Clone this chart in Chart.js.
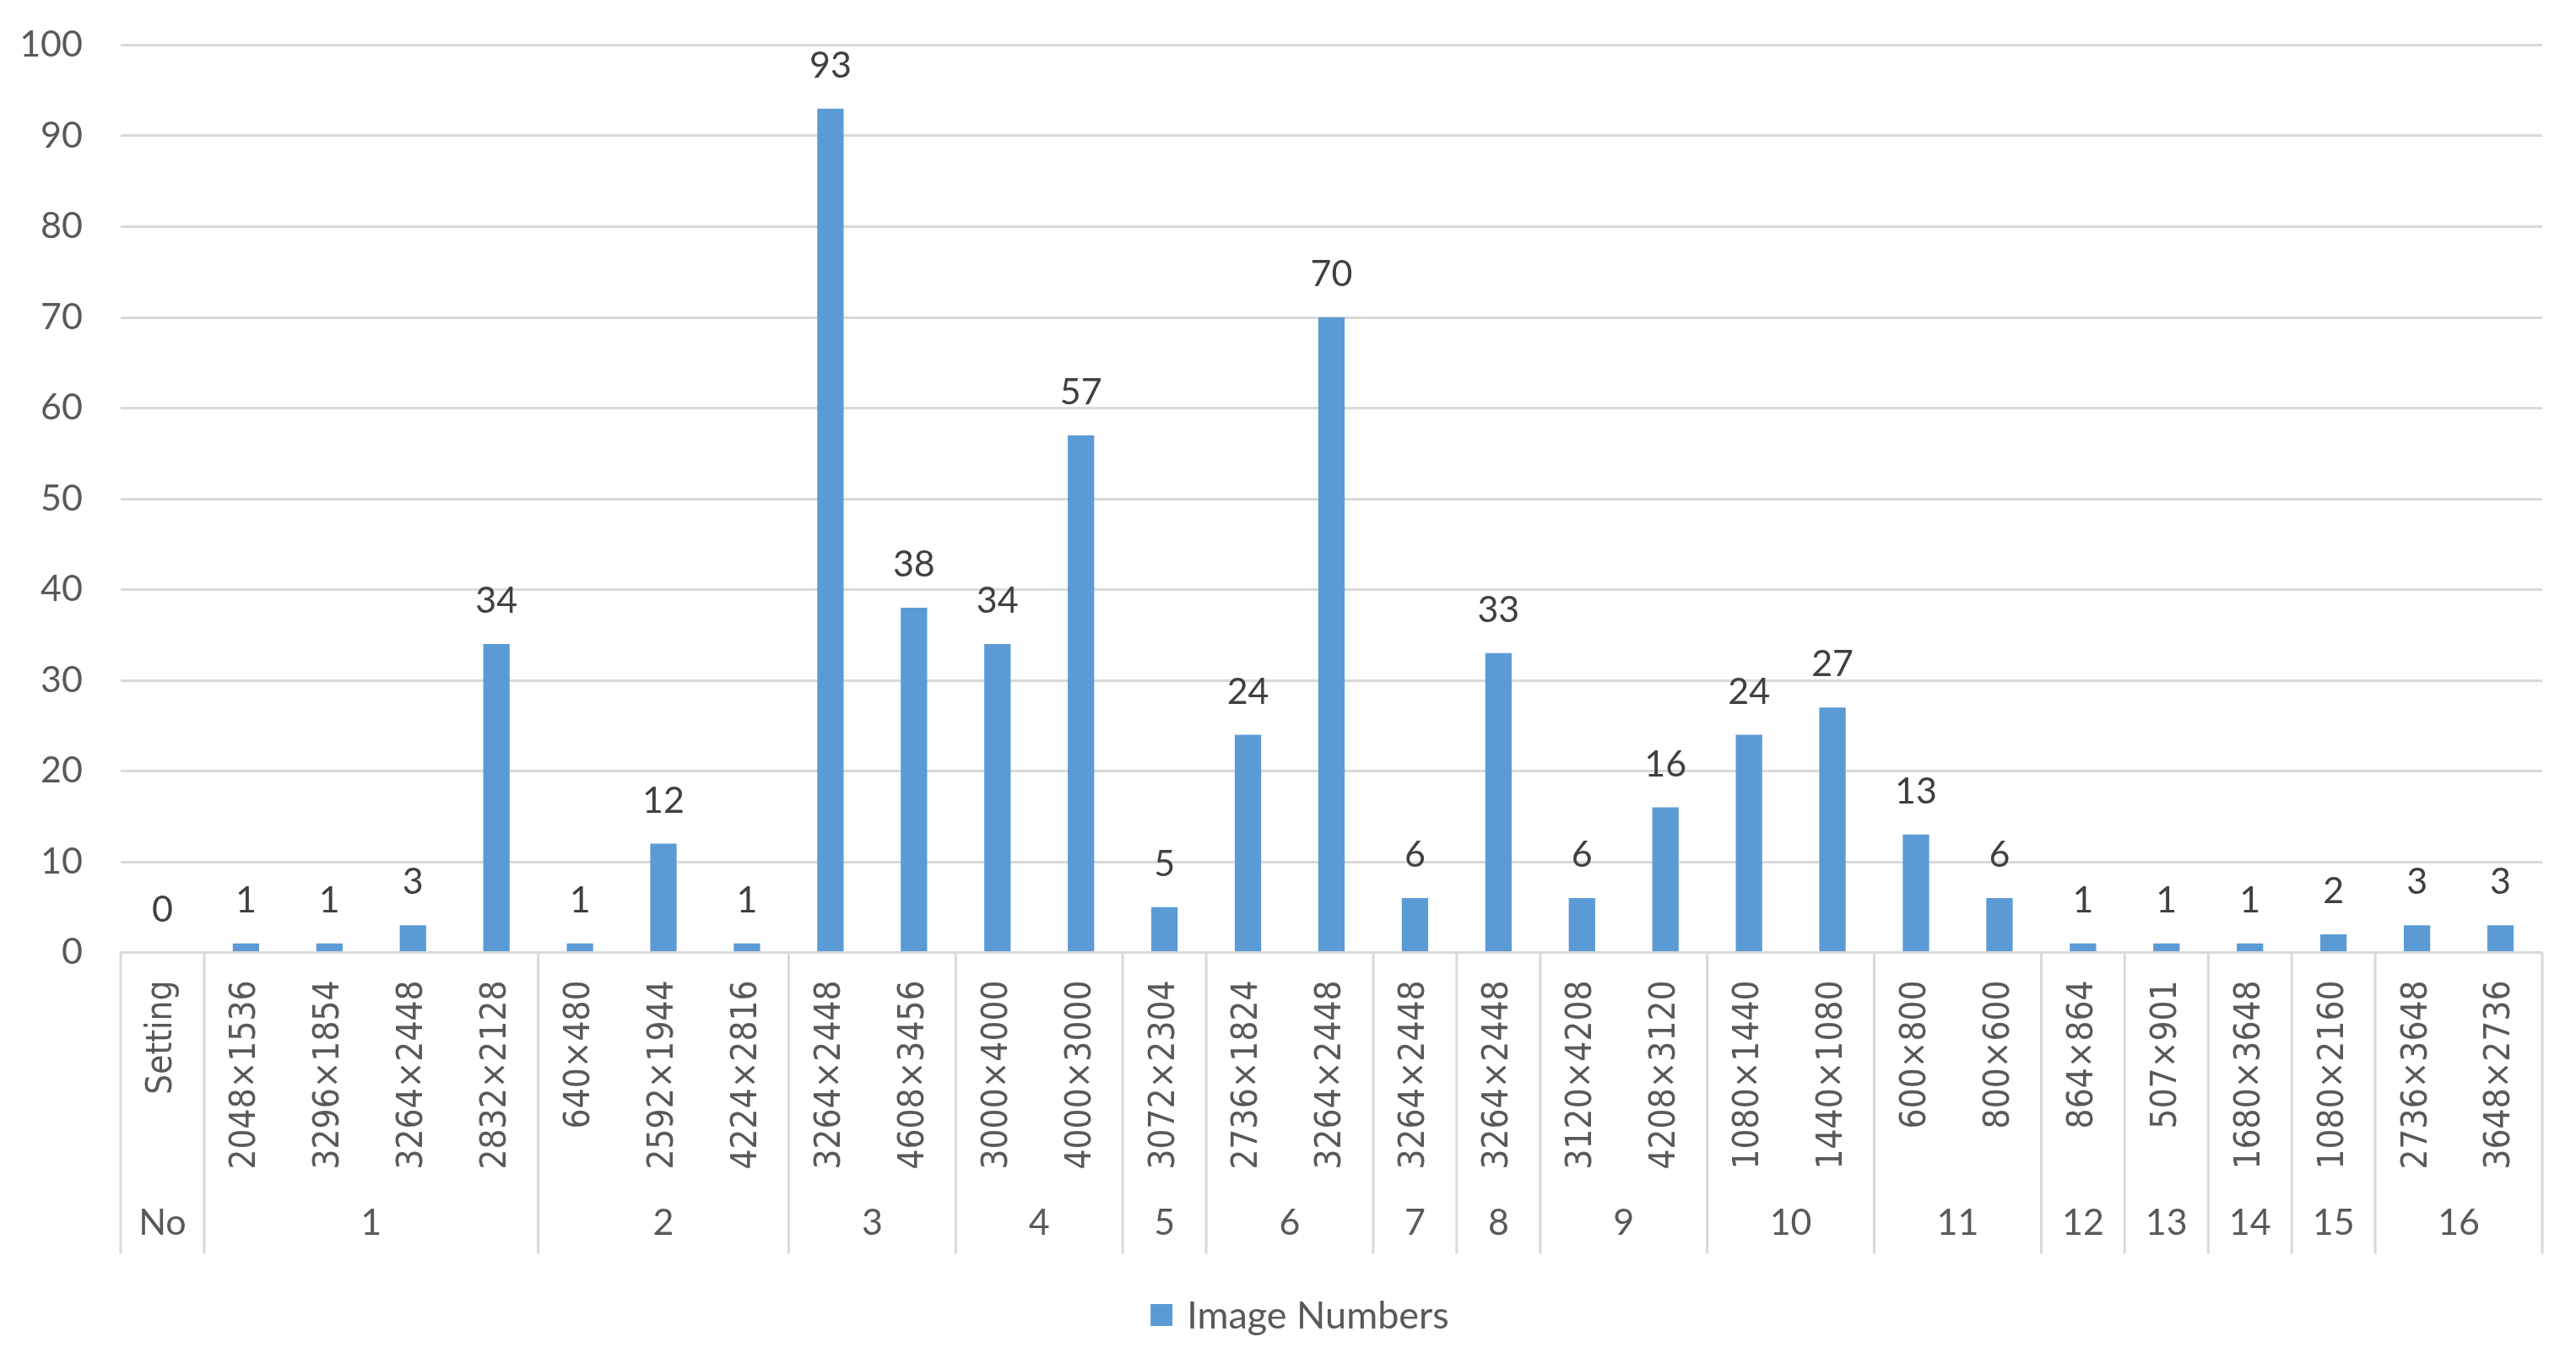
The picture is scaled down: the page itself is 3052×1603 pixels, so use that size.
<!DOCTYPE html>
<html>
<head>
<meta charset="utf-8">
<script src="https://cdn.jsdelivr.net/npm/chart.js@4.4.1/dist/chart.umd.min.js"></script>
<style>
  body { margin: 0; background: #fff; }
  #wrap { width: 3052px; height: 1603px; }
</style>
</head>
<body>
<div id="wrap"><canvas id="grafico" width="3052" height="1603"></canvas></div>
<script>
// categorias (resolucoes) e valores
const resolucoes = [
    'Setting',
    '2048×1536', '3296×1854', '3264×2448', '2832×2128',
    '640×480', '2592×1944', '4224×2816',
    '3264×2448', '4608×3456',
    '3000×4000', '4000×3000',
    '3072×2304',
    '2736×1824', '3264×2448',
    '3264×2448',
    '3264×2448',
    '3120×4208', '4208×3120',
    '1080×1440', '1440×1080',
    '600×800', '800×600',
    '864×864',
    '507×901',
    '1680×3648',
    '1080×2160',
    '2736×3648', '3648×2736'
];
const imageNumbers = [0, 1, 1, 3, 34, 1, 12, 1, 93, 38, 34, 57, 5, 24, 70, 6, 33, 6, 16, 24, 27, 13, 6, 1, 1, 1, 2, 3, 3];

// segundo nivel do eixo: nome do grupo e quantas categorias ele cobre
const grupos = ['No', '1', '2', '3', '4', '5', '6', '7', '8', '9', '10', '11', '12', '13', '14', '15', '16'];
const tamanhoGrupos = [1, 4, 3, 2, 2, 1, 2, 1, 1, 2, 2, 2, 1, 1, 1, 1, 2];

const yTicks = [0, 10, 20, 30, 40, 50, 60, 70, 80, 90, 100];

const corTexto = '#595959';
const fonteNum = 'Lato, "Open Sans", sans-serif';

// escreve o valor em cima de cada barra
const rotulosValores = {
    id: 'rotulosValores',
    afterDatasetsDraw(chart) {
        const ctx = chart.ctx;
        const meta = chart.getDatasetMeta(0);
        ctx.save();
        ctx.fillStyle = '#404040';
        ctx.font = '43px ' + fonteNum;
        ctx.textAlign = 'center';
        ctx.textBaseline = 'alphabetic';
        meta.data.forEach((barra, i) => {
            ctx.fillText(String(imageNumbers[i]), barra.x, barra.y - 37);
        });
        ctx.restore();
    }
};

// eixo de categorias em dois niveis, como no excel
const eixoGrupos = {
    id: 'eixoGrupos',
    afterDraw(chart) {
        const ctx = chart.ctx;
        const x = chart.scales.x;
        const area = chart.chartArea;
        const largura = (x.right - x.left) / resolucoes.length;
        const topo = area.bottom;
        const fundo = area.bottom + 357;
        const yTexto = area.bottom + 321;

        ctx.save();
        ctx.strokeStyle = '#d9d9d9';
        ctx.lineWidth = 3;
        ctx.fillStyle = corTexto;
        ctx.font = '43px ' + fonteNum;
        ctx.textAlign = 'center';
        ctx.textBaseline = 'middle';

        let inicio = 0;
        const linha = (px) => {
            ctx.beginPath();
            ctx.moveTo(px, topo);
            ctx.lineTo(px, fundo);
            ctx.stroke();
        };
        linha(x.left);
        grupos.forEach((nome, g) => {
            const fim = inicio + tamanhoGrupos[g];
            const xa = x.left + inicio * largura;
            const xb = x.left + fim * largura;
            linha(xb);
            ctx.fillText(nome, (xa + xb) / 2, yTexto);
            inicio = fim;
        });
        ctx.restore();
    }
};

// legenda desenhada a mao para ficar na mesma posicao do excel
const legendaExcel = {
    id: 'legendaExcel',
    afterDraw(chart) {
        const ctx = chart.ctx;
        const ds = chart.data.datasets[0];
        const caixa = 26;
        const espaco = 17;
        ctx.save();
        ctx.font = '45px ' + fonteNum;
        const larguraTexto = ctx.measureText(ds.label).width;
        const total = caixa + espaco + larguraTexto;
        const x0 = chart.width / 2 + 14 - total / 2;
        const yc = chart.height - 45;
        ctx.fillStyle = ds.backgroundColor;
        ctx.fillRect(x0, yc - caixa / 2, caixa, caixa);
        ctx.fillStyle = corTexto;
        ctx.textAlign = 'left';
        ctx.textBaseline = 'middle';
        ctx.fillText(ds.label, x0 + caixa + espaco, yc + 1);
        ctx.restore();
    }
};

new Chart(document.getElementById('grafico'), {
    type: 'bar',
    data: {
        labels: resolucoes,
        datasets: [{
            label: 'Image Numbers',
            data: imageNumbers,
            backgroundColor: '#5b9bd5',
            borderWidth: 0,
            barPercentage: 0.316,
            categoryPercentage: 1
        }]
    },
    options: {
        responsive: false,
        animation: false,
        layout: { padding: { top: 53.5, right: 40, bottom: 76, left: 0 } },
        plugins: {
            legend: { display: false },
            tooltip: { enabled: false }
        },
        scales: {
            x: {
                grid: { display: false, drawTicks: false },
                border: { display: false },
                ticks: {
                    autoSkip: false,
                    minRotation: 90,
                    maxRotation: 90,
                    padding: 33,
                    color: corTexto,
                    font: { family: '"DejaVu Sans Condensed", "DejaVu Sans", sans-serif', size: 42 }
                },
                afterFit(scale) { scale.height = 398.5; }
            },
            y: {
                min: 0,
                max: 100,
                afterBuildTicks(scale) { scale.ticks = yTicks.map(v => ({ value: v })); },
                grid: { color: '#d9d9d9', lineWidth: 3, tickLength: 45, tickColor: 'rgba(0,0,0,0)' },
                border: { display: false },
                ticks: {
                    padding: 0,
                    color: corTexto,
                    font: { family: fonteNum, size: 43 }
                },
                afterFit(scale) { scale.width = 143; }
            }
        }
    },
    plugins: [rotulosValores, eixoGrupos, legendaExcel]
});
</script>
</body>
</html>
